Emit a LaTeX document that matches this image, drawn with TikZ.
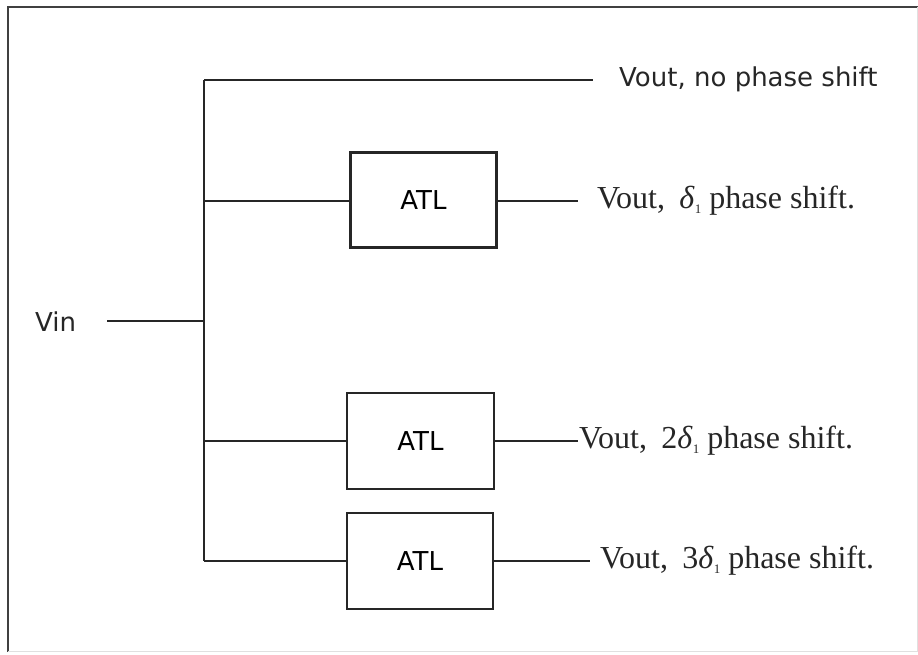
\documentclass[tikz,border=0pt]{standalone}
\usepackage{fontspec}
\setmainfont{Liberation Serif}
\newfontfamily\sanslab{DejaVu Sans}
\begin{document}
\begin{tikzpicture}[x=1pt,y=-1pt,
  wire/.style={line width=2.2pt,draw=black!85},
  atlbox/.style={draw=black!85,line width=2.4pt,minimum width=146pt,minimum height=95pt,inner sep=0pt,
     font=\sanslab\fontsize{26}{28}\selectfont},
  sanslabel/.style={anchor=west,inner sep=0pt,font=\sanslab\fontsize{26}{28}\selectfont,text=black!85},
  serlabel/.style={anchor=west,inner sep=0pt,font=\fontsize{32}{36}\selectfont,text=black!85}]
\useasboundingbox (0,0) rectangle (918,655);
% frame
\draw[line width=2.5pt,draw=black!75] (8,652) -- (8,7) -- (918,7);
\draw[line width=1pt,draw=black!12] (917,7) -- (917,651) -- (8,651);
% trunk junctions
\coordinate (t0) at (204,80);
\coordinate (t1) at (204,201);
\coordinate (tv) at (204,321);
\coordinate (t2) at (204,441);
\coordinate (t3) at (204,561);
\draw[wire] (t0) -- (t3);
% Vin
\node[sanslabel] (vin) at (35,322) {Vin};
\coordinate (vs) at (107,321);
\draw[wire] (vs) -- (tv);
% top branch
\coordinate (o0) at (593,80);
\draw[wire] (t0) -- (o0);
\node[sanslabel] (l0) at (619,79) {Vout, no phase shift};
% boxes
\node[atlbox] (b1) at (423.5,200) {ATL};
\node[atlbox,minimum width=147pt,minimum height=96pt] (b2) at (420.5,441) {ATL};
\node[atlbox,minimum height=96pt] (b3) at (420,561) {ATL};
\draw[wire] (t1) -- (b1.west |- t1);
\draw[wire] (t2) -- (b2.west |- t2);
\draw[wire] (t3) -- (b3.west |- t3);
\coordinate (o1) at (578,201);
\coordinate (o2) at (578,441);
\coordinate (o3) at (590,561);
\draw[wire] (b1.east |- o1) -- (o1);
\draw[wire] (b2.east |- o2) -- (o2);
\draw[wire] (b3.east |- o3) -- (o3);
\node[serlabel] (l1) at (597,201) {Vout,\hspace{0.45em}\textit{δ}\raisebox{-0.3ex}{\fontsize{13}{14}\selectfont 1} phase shift.};
\node[serlabel] (l2) at (579,441) {Vout,\hspace{0.45em}2\textit{δ}\raisebox{-0.3ex}{\fontsize{13}{14}\selectfont 1} phase shift.};
\node[serlabel] (l3) at (600,561) {Vout,\hspace{0.45em}3\textit{δ}\raisebox{-0.3ex}{\fontsize{13}{14}\selectfont 1} phase shift.};
\end{tikzpicture}
\end{document}
